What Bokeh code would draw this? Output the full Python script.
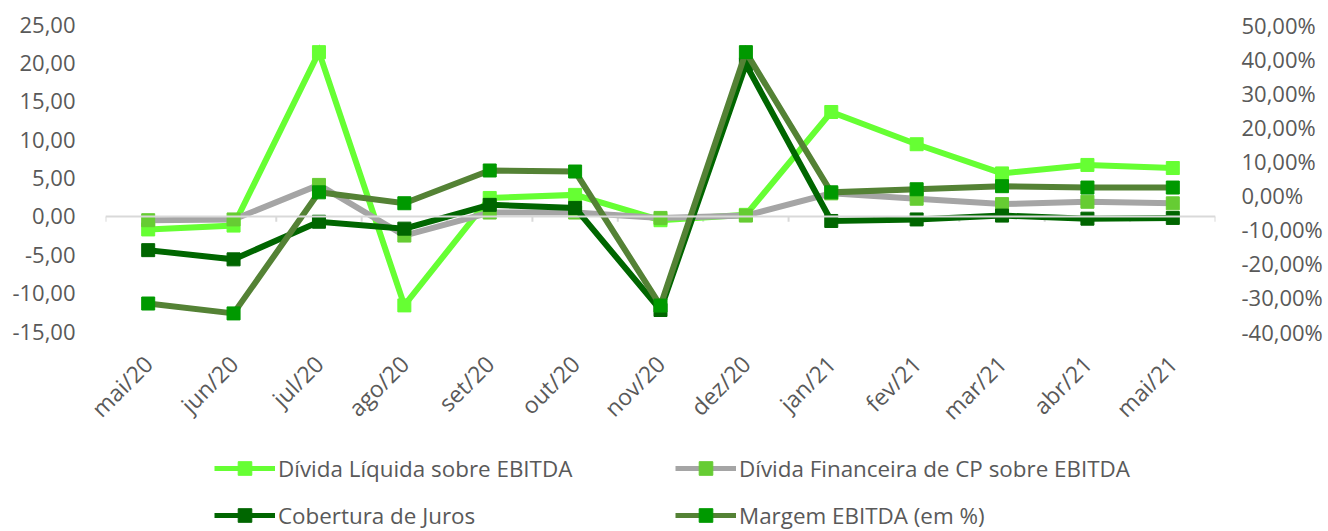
import math
from bokeh.plotting import figure
from bokeh.layouts import column
from bokeh.models import (Range1d, LinearAxis, FixedTicker, Legend, LegendItem,
                          Span, FactorRange, ColumnDataSource)
from bokeh.transform import dodge
from bokeh.embed import file_html
from bokeh.resources import INLINE

# ---------------- data ----------------
months = ["mai/20", "jun/20", "jul/20", "ago/20", "set/20", "out/20", "nov/20",
          "dez/20", "jan/21", "fev/21", "mar/21", "abr/21", "mai/21"]
divida_liquida = [-1.7, -1.2, 21.4, -11.6, 2.4, 2.8, -0.5, 0.2, 13.6, 9.4, 5.6, 6.7, 6.3]
divida_cp = [-0.5, -0.4, 4.1, -2.5, 0.5, 0.5, -0.2, 0.1, 3.0, 2.3, 1.6, 1.9, 1.7]
cobertura = [-4.4, -5.6, -0.7, -1.6, 1.5, 1.1, -12.2, 19.8, -0.6, -0.4, 0.1, -0.3, -0.2]
margem_pct = [-31.8, -34.7, 0.8, -2.4, 7.2, 6.9, -32.4, 41.9, 0.8, 1.7, 2.6, 2.2, 2.2]
series_names = ["Dívida Líquida sobre EBITDA", "Dívida Financeira de CP sobre EBITDA",
                "Cobertura de Juros", "Margem EBITDA (em %)"]
left_ticks = [-15, -10, -5, 0, 5, 10, 15, 20, 25]
right_ticks = [-40, -30, -20, -10, 0, 10, 20, 30, 40, 50]

FONT = "Open Sans"
TXT = "#595959"

src = ColumnDataSource(dict(m=months, dl=divida_liquida, cp=divida_cp,
                            cj=cobertura, mg=margem_pct))

p = figure(width=1328, height=440, x_range=FactorRange(*months),
           y_range=Range1d(left_ticks[0], left_ticks[-1]),
           output_backend="svg", toolbar_location=None,
           min_border_left=105, min_border_right=113, min_border_top=24,
           min_border_bottom=107)
p.extra_y_ranges = {"pct": Range1d(right_ticks[0], right_ticks[-1])}
p.outline_line_color = None
p.background_fill_color = "white"
p.xgrid.visible = False
p.ygrid.visible = False

# left axis
ya = p.yaxis[0]
ya.ticker = FixedTicker(ticks=left_ticks)
ya.major_label_overrides = {t: f"{t:.2f}".replace(".", ",") for t in left_ticks}
ya.axis_line_color = None
ya.major_tick_line_color = None
ya.minor_tick_line_color = None
ya.major_label_standoff = 24
ya.major_label_text_font = FONT
ya.major_label_text_font_size = "22px"
ya.major_label_text_color = TXT

# right axis
ra = LinearAxis(y_range_name="pct", ticker=FixedTicker(ticks=right_ticks))
ra.major_label_overrides = {t: f"{t:.2f}".replace(".", ",") + "%" for t in right_ticks}
ra.axis_line_color = None
ra.major_tick_line_color = None
ra.minor_tick_line_color = None
ra.major_label_standoff = 20
ra.major_label_text_font = FONT
ra.major_label_text_font_size = "22px"
ra.major_label_text_color = TXT
p.add_layout(ra, "right")

# x axis
xa = p.xaxis[0]
xa.axis_line_color = None
xa.major_tick_line_color = None
xa.major_label_orientation = math.pi / 4
xa.major_label_standoff = 22
xa.major_label_text_font = FONT
xa.major_label_text_font_size = "23px"
xa.major_label_text_color = TXT

# zero line and category boundary ticks
p.add_layout(Span(location=0, dimension="width", line_color="#D9D9D9", line_width=2))
p.segment(x0=dodge("m", -0.5, range=p.x_range), x1=dodge("m", -0.5, range=p.x_range),
          y0=0, y1=-0.7, source=src, line_color="#D9D9D9", line_width=2)
p.segment(x0=dodge("m", 0.5, range=p.x_range), x1=dodge("m", 0.5, range=p.x_range),
          y0=0, y1=-0.7, source=ColumnDataSource(dict(m=[months[-1]])),
          line_color="#D9D9D9", line_width=2)

specs = [
    ("dl", "#66FF33", "#66FF33", "default"),
    ("cp", "#A5A5A5", "#66CC33", "default"),
    ("cj", "#006600", "#006600", "default"),
    ("mg", "#548235", "#009900", "pct"),
]
for (col, lc, mc, rng) in specs:
    p.line("m", col, source=src, line_color=lc, line_width=6, y_range_name=rng,
           line_join="miter")
    p.scatter("m", col, source=src, marker="square", size=13, fill_color=mc,
              line_color=mc, y_range_name=rng)

# ---------------- legend strip ----------------
p2 = figure(width=1328, height=91, x_range=Range1d(0, 1), y_range=Range1d(0, 1),
            output_backend="svg", toolbar_location=None,
            min_border=0, min_border_left=0, min_border_right=0,
            min_border_top=0, min_border_bottom=0)
p2.axis.visible = False
p2.grid.visible = False
p2.outline_line_color = None

nan = float("nan")
items = []
for (col, lc, mc, rng), name in zip(specs, series_names):
    lr = p2.line(x=[nan, nan], y=[nan, nan], line_color=lc, line_width=5)
    sr = p2.scatter(x=[nan], y=[nan], marker="square", fill_color=mc, line_color=mc)
    items.append(LegendItem(label=name, renderers=[lr, sr]))

def make_legend(its, x):
    return Legend(items=its, location=(x, -1), orientation="vertical",
                  glyph_width=61, glyph_height=34, label_height=34, spacing=13,
                  label_standoff=3, padding=0, margin=0, border_line_color=None,
                  background_fill_alpha=0, label_text_font=FONT,
                  label_text_font_size="22.4px", label_text_color=TXT)

p2.add_layout(make_legend([items[0], items[2]], 109))
p2.add_layout(make_legend([items[1], items[3]], 570))

open("out.html", "w").write(file_html(column(p, p2, spacing=0), INLINE))
